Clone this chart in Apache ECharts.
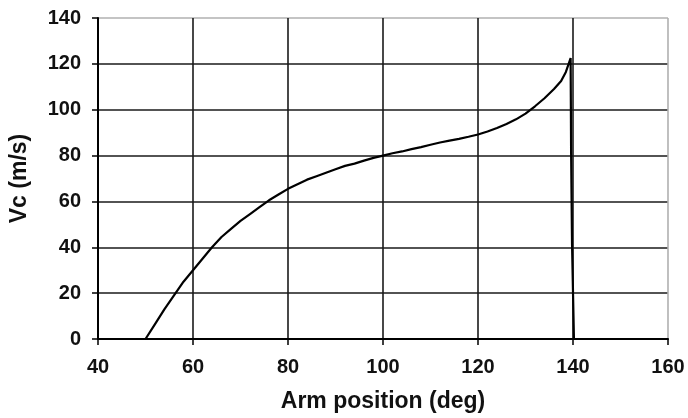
<!DOCTYPE html>
<html>
<head>
<meta charset="utf-8">
<script src="https://cdn.jsdelivr.net/npm/echarts@6/dist/echarts.min.js"></script>
<style>
  html, body { margin: 0; padding: 0; background: #fff; }
  #chart { width: 688px; height: 418px; }
</style>
</head>
<body>
<div id="chart"></div>
<script>
// Arm position (deg) and corresponding Vc (m/s)
const armPosition = [
  50, 52, 54, 56, 58, 60, 62, 64, 66, 68, 70, 72, 74, 76, 78, 80,
  82, 84, 86, 88, 90, 92, 94, 96, 98, 100, 102, 104, 106, 108, 110,
  112, 114, 116, 118, 120, 122, 124, 126, 128, 130, 132, 134, 136,
  137.5, 138.5, 139.5, 139.6, 139.8, 140.2, 160
];
const vc = [
  0, 6.5, 13, 19, 25, 30, 35, 40, 44.5, 48, 51.5, 54.5, 57.5, 60.5, 63, 65.5,
  67.5, 69.5, 71, 72.5, 74, 75.5, 76.5, 77.8, 79, 80, 81, 81.8, 82.8, 83.7, 84.7,
  85.7, 86.5, 87.3, 88.2, 89.2, 90.5, 92, 93.8, 95.8, 98.3, 101.5, 105, 109,
  112.5, 116.5, 122.5, 82, 41, 0, 0
];

const xTicks = [40, 60, 80, 100, 120, 140, 160];
const yTicks = [0, 20, 40, 60, 80, 100, 120, 140];

const points = armPosition.map((x, i) => [x, vc[i]]);

// grid lines are dark inside the plot, light grey on the outer frame edges
const gridColors = (ticks) => ticks.map((t, i) => (i === ticks.length - 1 ? '#b0b0b0' : '#1a1a1a'));

const labelFont = { fontFamily: 'Liberation Sans', fontWeight: 'bold', fontSize: 20, color: '#111' };
const titleFont = { fontFamily: 'Liberation Sans', fontWeight: 'bold', fontSize: 23, color: '#111' };

const chart = echarts.init(document.getElementById('chart'), null, { renderer: 'canvas' });
chart.setOption({
  animation: false,
  backgroundColor: '#fff',
  grid: { left: 97, right: 20, top: 18, bottom: 78, containLabel: false },
  xAxis: {
    type: 'value',
    min: xTicks[0],
    max: xTicks[xTicks.length - 1],
    interval: 20,
    name: 'Arm position (deg)',
    nameLocation: 'middle',
    nameGap: 51,
    nameTextStyle: titleFont,
    axisLine: { show: true, onZero: false, lineStyle: { color: '#000', width: 2 } },
    axisTick: { show: true, inside: false, length: 6, lineStyle: { color: '#000', width: 1.5 } },
    axisLabel: Object.assign({ margin: 18 }, labelFont),
    splitLine: { show: true, lineStyle: { color: gridColors(xTicks), width: 1.6 } }
  },
  yAxis: {
    type: 'value',
    min: yTicks[0],
    max: yTicks[yTicks.length - 1],
    interval: 20,
    name: 'Vc (m/s)',
    nameLocation: 'middle',
    nameGap: 67,
    nameRotate: 90,
    nameTextStyle: titleFont,
    axisLine: { show: true, lineStyle: { color: '#000', width: 2 } },
    axisTick: { show: true, inside: false, length: 6, lineStyle: { color: '#000', width: 1.5 } },
    axisLabel: Object.assign({ margin: 17 }, labelFont),
    splitLine: { show: true, lineStyle: { color: gridColors(yTicks), width: 1.6 } }
  },
  series: [{
    type: 'line',
    data: points,
    showSymbol: false,
    smooth: false,
    lineStyle: { color: '#000', width: 2.2 },
    z: 5
  }]
});
</script>
</body>
</html>
